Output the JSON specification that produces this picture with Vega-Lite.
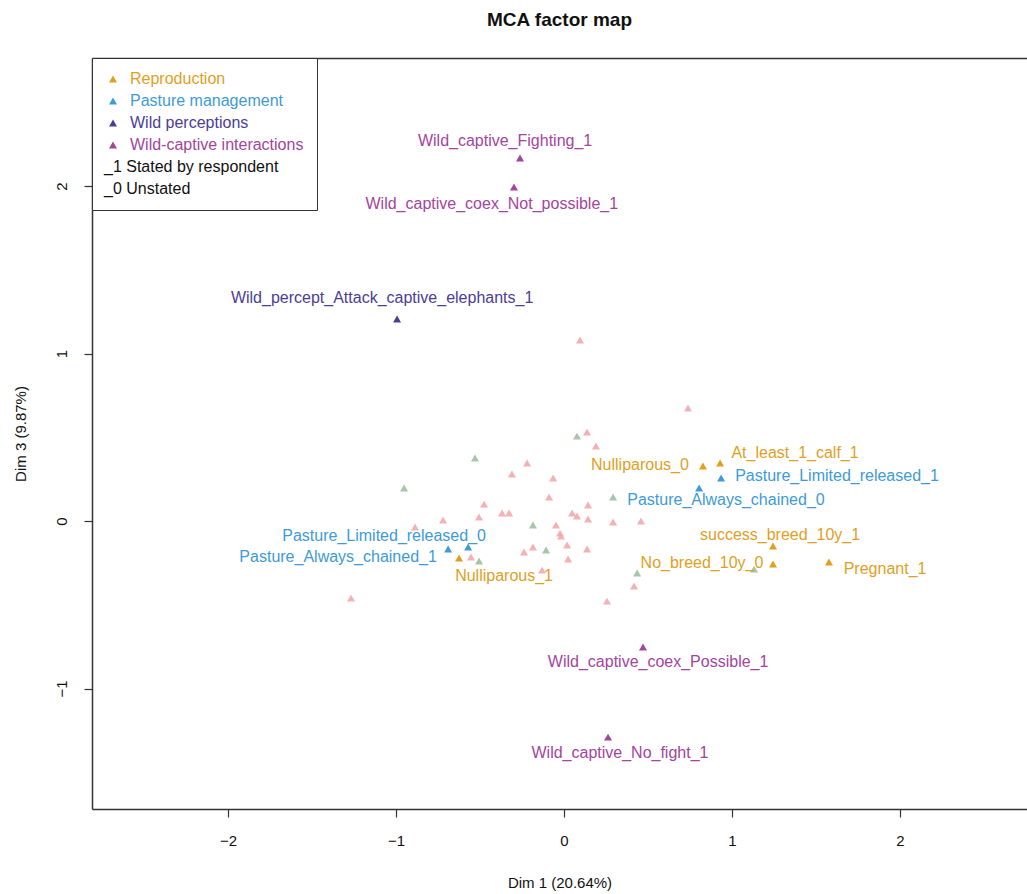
{
  "$schema": "https://vega.github.io/schema/vega-lite/v6.json",
  "width": 935,
  "height": 751,
  "autosize": {"type": "none"},
  "padding": {"left": 92, "top": 58, "right": 0, "bottom": 85},
  "background": "white",
  "config": {"view": {"stroke": null}, "font": "Liberation Sans"},
  "title": {"text": "MCA factor map", "fontSize": 19, "fontWeight": "bold", "font": "Liberation Sans", "color": "#111", "anchor": "middle", "baseline": "alphabetic", "offset": 13},
  "datasets": {
    "pink": [
      {"x": 0.738, "y": 0.675}, {"x": 0.095, "y": 1.081}, {"x": 0.137, "y": 0.531}, {"x": 0.19, "y": 0.448},
      {"x": -0.22, "y": 0.346}, {"x": -0.31, "y": 0.281}, {"x": -0.065, "y": 0.257}, {"x": -0.089, "y": 0.143},
      {"x": -0.476, "y": 0.101}, {"x": 0.143, "y": 0.096}, {"x": -0.369, "y": 0.048}, {"x": -0.327, "y": 0.048},
      {"x": 0.048, "y": 0.048}, {"x": 0.077, "y": 0.03}, {"x": -0.72, "y": 0.006}, {"x": -0.506, "y": 0.024},
      {"x": 0.143, "y": 0.012}, {"x": 0.292, "y": -0.006}, {"x": 0.458, "y": 0.0}, {"x": -0.887, "y": -0.036},
      {"x": -0.048, "y": -0.024}, {"x": -0.024, "y": -0.072}, {"x": -0.018, "y": -0.09}, {"x": -0.185, "y": -0.155},
      {"x": -0.238, "y": -0.185}, {"x": 0.018, "y": -0.143}, {"x": 0.137, "y": -0.167}, {"x": -0.554, "y": -0.215},
      {"x": 0.024, "y": -0.227}, {"x": -0.131, "y": -0.293}, {"x": 0.417, "y": -0.388}, {"x": 0.256, "y": -0.478},
      {"x": -1.268, "y": -0.46}
    ],
    "green": [
      {"x": 0.077, "y": 0.507}, {"x": -0.53, "y": 0.376}, {"x": -0.952, "y": 0.197}, {"x": 0.292, "y": 0.143},
      {"x": -0.185, "y": -0.024}, {"x": -0.107, "y": -0.173}, {"x": -0.506, "y": -0.239}, {"x": 0.435, "y": -0.31},
      {"x": 1.131, "y": -0.287}
    ],
    "cats": [
      {"name": "Wild_captive_Fighting_1", "group": "Wild-captive interactions", "x": -0.262, "y": 2.167, "lx": -0.351, "ly": 2.269},
      {"name": "Wild_captive_coex_Not_possible_1", "group": "Wild-captive interactions", "x": -0.298, "y": 1.994, "lx": -0.43, "ly": 1.893},
      {"name": "Wild_percept_Attack_captive_elephants_1", "group": "Wild perceptions", "x": -0.994, "y": 1.206, "lx": -1.083, "ly": 1.331},
      {"name": "Nulliparous_0", "group": "Reproduction", "x": 0.827, "y": 0.328, "lx": 0.452, "ly": 0.334},
      {"name": "At_least_1_calf_1", "group": "Reproduction", "x": 0.929, "y": 0.346, "lx": 1.375, "ly": 0.406},
      {"name": "Pasture_Limited_released_1", "group": "Pasture management", "x": 0.935, "y": 0.257, "lx": 1.625, "ly": 0.269},
      {"name": "Pasture_Always_chained_0", "group": "Pasture management", "x": 0.804, "y": 0.197, "lx": 0.964, "ly": 0.125},
      {"name": "success_breed_10y_1", "group": "Reproduction", "x": 1.244, "y": -0.149, "lx": 1.286, "ly": -0.084},
      {"name": "No_breed_10y_0", "group": "Reproduction", "x": 1.244, "y": -0.257, "lx": 0.821, "ly": -0.251},
      {"name": "Pregnant_1", "group": "Reproduction", "x": 1.577, "y": -0.245, "lx": 1.911, "ly": -0.287},
      {"name": "Nulliparous_1", "group": "Reproduction", "x": -0.625, "y": -0.221, "lx": -0.357, "ly": -0.328},
      {"name": "Pasture_Limited_released_0", "group": "Pasture management", "x": -0.571, "y": -0.155, "lx": -1.071, "ly": -0.09},
      {"name": "Pasture_Always_chained_1", "group": "Pasture management", "x": -0.69, "y": -0.167, "lx": -1.345, "ly": -0.215},
      {"name": "Wild_captive_coex_Possible_1", "group": "Wild-captive interactions", "x": 0.47, "y": -0.752, "lx": 0.56, "ly": -0.842},
      {"name": "Wild_captive_No_fight_1", "group": "Wild-captive interactions", "x": 0.262, "y": -1.29, "lx": 0.333, "ly": -1.385}
    ]
  },
  "resolve": {"axis": {"x": "independent", "y": "independent"}},
  "layer": [
    {
      "mark": {"type": "rule", "color": "#444", "strokeWidth": 1.5, "strokeDash": [4, 4]},
      "encoding": {"x": {"datum": 0, "type": "quantitative", "scale": {"domain": [-2.81, 2.756], "nice": false, "zero": false}, "axis": null}}
    },
    {
      "mark": {"type": "rule", "color": "#444", "strokeWidth": 1.5, "strokeDash": [4, 4]},
      "encoding": {"y": {"datum": 0, "type": "quantitative", "scale": {"domain": [-1.719, 2.764], "nice": false, "zero": false}, "axis": null}}
    },
    {
      "data": {"name": "pink"},
      "mark": {"type": "point", "shape": "triangle-up", "filled": true, "size": 64, "color": "#F4A7AC", "opacity": 0.9},
      "encoding": {
        "x": {"field": "x", "type": "quantitative", "axis": {"orient": "top", "labels": false, "ticks": false, "domain": true, "domainColor": "#333", "domainWidth": 1.5, "grid": false, "title": null}},
        "y": {"field": "y", "type": "quantitative", "axis": null}
      }
    },
    {
      "data": {"name": "green"},
      "mark": {"type": "point", "shape": "triangle-up", "filled": true, "size": 64, "color": "#A0C3A5", "opacity": 0.95},
      "encoding": {
        "x": {"field": "x", "type": "quantitative", "axis": null},
        "y": {"field": "y", "type": "quantitative", "axis": null}
      }
    },
    {
      "data": {"name": "cats"},
      "mark": {"type": "point", "shape": "triangle-up", "filled": true, "size": 64, "opacity": 1},
      "encoding": {
        "x": {"field": "x", "type": "quantitative", "title": "Dim 1 (20.64%)",
          "axis": {"orient": "bottom", "values": [-2, -1, 0, 1, 2], "grid": false, "domainColor": "#333", "domainWidth": 1.5, "tickColor": "#333", "tickWidth": 1.2, "tickSize": 8, "labelFontSize": 15, "labelColor": "#111", "labelPadding": 16, "titleFontSize": 15, "titleFontWeight": "normal", "titleColor": "#111", "titleY": 73, "titleBaseline": "middle", "labelFlush": false}},
        "y": {"field": "y", "type": "quantitative", "title": "Dim 3 (9.87%)",
          "axis": {"orient": "left", "values": [-1, 0, 1, 2], "grid": false, "domainColor": "#333", "domainWidth": 1.5, "tickColor": "#333", "tickWidth": 1.2, "tickSize": 8, "labelFontSize": 15, "labelColor": "#111", "labelAngle": -90, "labelAlign": "center", "labelBaseline": "bottom", "labelPadding": 15, "titleFontSize": 15, "titleFontWeight": "normal", "titleColor": "#111", "titleX": -72, "titleBaseline": "middle", "labelFlush": false}},
        "color": {"field": "group", "type": "nominal",
          "scale": {"domain": ["Reproduction", "Pasture management", "Wild perceptions", "Wild-captive interactions", "Stated by respondent", "Unstated"],
                    "range": ["#DFA01E", "#3E9AD8", "#4B3D96", "#A4449E", "#111111", "#111111"]},
          "legend": {"orient": "top-left", "offset": 0, "title": null, "strokeColor": "#333", "fillColor": "white", "padding": 13,
            "symbolType": "triangle-up", "symbolSize": 64, "symbolStrokeWidth": 0, "labelFontSize": 16, "rowPadding": 6, "labelLimit": 400,
            "labelOffset": {"expr": "(datum.value == 'Stated by respondent' || datum.value == 'Unstated') ? -17 : 9"},
            "labelColor": {"expr": "scale('color', datum.value)"},
            "symbolOpacity": {"expr": "(datum.value == 'Stated by respondent' || datum.value == 'Unstated') ? 0 : 1"},
            "labelExpr": "datum.label == 'Stated by respondent' ? '_1  Stated by respondent' : (datum.label == 'Unstated' ? '_0  Unstated' : datum.label)"}
        }
      }
    },
    {
      "data": {"name": "cats"},
      "mark": {"type": "text", "fontSize": 16, "align": "center", "baseline": "middle"},
      "encoding": {
        "x": {"field": "lx", "type": "quantitative", "axis": null},
        "y": {"field": "ly", "type": "quantitative", "axis": null},
        "text": {"field": "name"},
        "color": {"field": "group", "type": "nominal", "legend": null}
      }
    }
  ]
}
